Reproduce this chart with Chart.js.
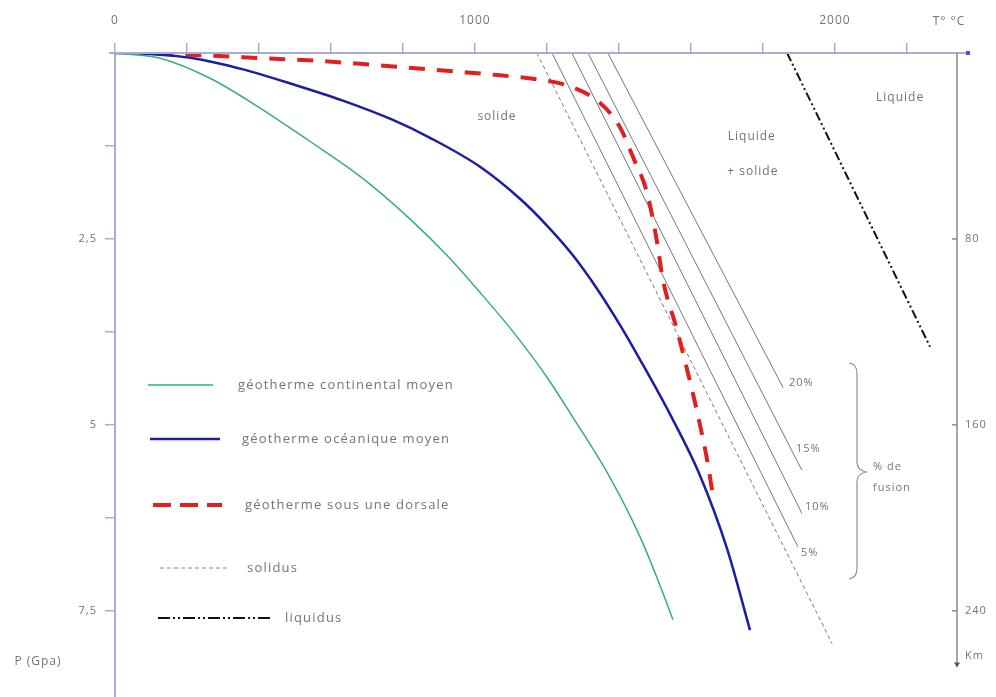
<!DOCTYPE html>
<html lang="fr">
<head>
<meta charset="UTF-8">
<title>Géothermes et fusion partielle</title>
<script src="https://cdn.jsdelivr.net/npm/chart.js"></script>
<style>
  body { margin: 0; background: #fff; }
  .graphe { width: 996px; height: 697px; }
</style>
</head>
<body>
<div class="graphe">
  <canvas id="grafico"></canvas>
</div>

<script>
// temperatures en °C, pressions en GPa
var tempCont = [0, 125, 264, 403, 542, 681, 819, 922, 1014, 1106, 1200, 1272, 1367, 1458, 1514, 1550];
var presCont = [0, 0.07, 0.34, 0.74, 1.19, 1.66, 2.23, 2.72, 3.22, 3.75, 4.36, 4.90, 5.64, 6.50, 7.16, 7.62];

var tempOcea = [0, 78, 217, 356, 494, 633, 772, 875, 1014, 1125, 1200, 1272, 1339, 1403, 1458, 1542, 1625, 1700, 1764];
var presOcea = [0, 0.01, 0.07, 0.22, 0.42, 0.64, 0.90, 1.14, 1.53, 1.96, 2.32, 2.72, 3.17, 3.66, 4.12, 4.86, 5.68, 6.66, 7.76];

var tempDors = [40, 244, 411, 578, 772, 950, 1069, 1181, 1264, 1347, 1403, 1439, 1478, 1506, 1522, 1561, 1603, 1625, 1644, 1661];
var presDors = [0, 0.03, 0.07, 0.11, 0.18, 0.25, 0.30, 0.36, 0.45, 0.67, 1.0, 1.40, 1.88, 2.55, 3.05, 3.72, 4.53, 5.0, 5.45, 5.95];

var tempSolidus = [1172, 1992];
var presSolidus = [0, 7.94];
var tempFus5 = [1214, 1897];
var presFus5 = [0, 6.64];
var tempFus10 = [1269, 1908];
var presFus10 = [0, 6.19];
var tempFus15 = [1314, 1908];
var presFus15 = [0, 5.61];
var tempFus20 = [1369, 1856];
var presFus20 = [0, 4.50];
var tempLiquidus = [1867, 2264];
var presLiquidus = [0, 3.95];

var ticksPres = {2.5: '2,5', 5: '5', 7.5: '7,5'};
var ticksKm = [80, 160, 240];

var corAxe = '#a9add3';
var corTexto = '#747474';
var fonte = '"Open Sans", sans-serif';

function pontos(t, p) {
  var r = [];
  for (let i = 0; i < t.length; i++) {
    r.push({x: t[i], y: p[i]});
  }
  return r;
}

function serie(t, p, cor, larg, dash) {
  return {
    data: pontos(t, p),
    showLine: true,
    borderColor: cor,
    borderWidth: larg,
    borderDash: dash || [],
    pointRadius: 0,
    cubicInterpolationMode: 'monotone',
    fill: false
  };
}

function semPadding(s) {
  s.paddingTop = 0;
  s.paddingBottom = 0;
  s.paddingLeft = 0;
  s.paddingRight = 0;
}

// espacement des lettres comme dans l'original
var espaco = {
  id: 'espaco',
  beforeDraw(chart) {
    chart.ctx.letterSpacing = '1px';
  }
};

// textes, legende, accolade et axe des km
var decor = {
  id: 'decor',
  afterDraw(chart) {
    var ctx = chart.ctx;
    var sx = chart.scales.x, sy = chart.scales.y, sk = chart.scales.km;
    var area = chart.chartArea;
    ctx.save();
    ctx.letterSpacing = '1px';

    // prolongement de l'axe des T et point
    ctx.strokeStyle = corAxe;
    ctx.lineWidth = 2;
    ctx.beginPath();
    ctx.moveTo(area.left - 6, area.top);
    ctx.lineTo(area.right + 11, area.top);
    ctx.stroke();
    ctx.fillStyle = '#4a55c0';
    ctx.fillRect(area.right + 9, area.top - 2, 4, 4);

    // axe de droite (km)
    var xk = area.right;
    var yFim = sk.getPixelForValue(264);
    ctx.strokeStyle = '#8a8a8a';
    ctx.lineWidth = 1.5;
    ctx.beginPath();
    ctx.moveTo(xk, area.top);
    ctx.lineTo(xk, yFim);
    ctx.stroke();
    ctx.fillStyle = '#555';
    ctx.beginPath();
    ctx.moveTo(xk - 3, yFim - 4);
    ctx.lineTo(xk + 3, yFim - 4);
    ctx.lineTo(xk, yFim + 1);
    ctx.fill();
    ticksKm.forEach(function (v) {
      var y = sk.getPixelForValue(v);
      ctx.beginPath();
      ctx.moveTo(xk - 5, y);
      ctx.lineTo(xk, y);
      ctx.stroke();
    });

    ctx.fillStyle = corTexto;
    ctx.textBaseline = 'middle';
    ctx.font = '11px ' + fonte;
    ctx.textAlign = 'left';
    ctx.fillText('Km', xk + 8, yFim - 11);
    ctx.textAlign = 'center';
    ctx.font = '12px ' + fonte;
    ctx.fillText('T° °C', 949, 22);
    ctx.fillText('P (Gpa)', 38, 662);

    // zones
    ctx.fillText('solide', sx.getPixelForValue(1061), sy.getPixelForValue(0.85));
    ctx.fillText('Liquide', sx.getPixelForValue(1769), sy.getPixelForValue(1.12));
    ctx.fillText('+ solide', sx.getPixelForValue(1772), sy.getPixelForValue(1.60));
    ctx.fillText('Liquide', sx.getPixelForValue(2181), sy.getPixelForValue(0.60));

    // % de fusion
    ctx.font = '11px ' + fonte;
    ctx.textAlign = 'left';
    ctx.fillText('20%', 789, 383);
    ctx.fillText('15%', 796, 449);
    ctx.fillText('10%', 805, 507);
    ctx.fillText('5%', 801, 553);
    ctx.fillText('% de', 873, 467);
    ctx.fillText('fusion', 873, 488);

    // accolade
    ctx.strokeStyle = '#909090';
    ctx.lineWidth = 1.2;
    ctx.beginPath();
    ctx.moveTo(849, 363);
    ctx.quadraticCurveTo(857, 364, 857, 374);
    ctx.lineTo(857, 462);
    ctx.quadraticCurveTo(857, 470, 866, 472);
    ctx.quadraticCurveTo(857, 474, 857, 482);
    ctx.lineTo(857, 568);
    ctx.quadraticCurveTo(857, 578, 849, 579);
    ctx.stroke();

    // legende
    var leg = [
      {y: 385, x0: 148, x1: 213, cor: '#33ad86', larg: 1.5, dash: [], txt: 'géotherme continental moyen', xt: 238},
      {y: 439, x0: 150, x1: 220, cor: '#1c1ca6', larg: 2.5, dash: [], txt: 'géotherme océanique moyen', xt: 242},
      {y: 505, x0: 153, x1: 222, cor: '#e0201e', larg: 4, dash: [18, 9], txt: 'géotherme sous une dorsale', xt: 245},
      {y: 568, x0: 160, x1: 227, cor: '#8a8a8a', larg: 1, dash: [4, 3], txt: 'solidus', xt: 247},
      {y: 618, x0: 158, x1: 272, cor: '#111', larg: 1.8, dash: [12, 3, 2, 3, 2, 3], txt: 'liquidus', xt: 285}
    ];
    ctx.font = '13px ' + fonte;
    ctx.letterSpacing = '1.2px';
    leg.forEach(function (l) {
      ctx.strokeStyle = l.cor;
      ctx.lineWidth = l.larg;
      ctx.setLineDash(l.dash);
      ctx.beginPath();
      ctx.moveTo(l.x0, l.y);
      ctx.lineTo(l.x1, l.y);
      ctx.stroke();
      ctx.setLineDash([]);
      ctx.fillStyle = corTexto;
      ctx.fillText(l.txt, l.xt, l.y);
    });

    ctx.restore();
  }
};

const ctxGraf = document.getElementById('grafico');

new Chart(ctxGraf, {
  type: 'scatter',
  data: {
    datasets: [
      serie(tempCont, presCont, '#33ad86', 1.5),
      serie(tempOcea, presOcea, '#1c1ca6', 2.5),
      serie(tempDors, presDors, '#e0201e', 4, [16, 12]),
      serie(tempSolidus, presSolidus, '#777', 1, [4, 3]),
      serie(tempFus5, presFus5, '#777', 1),
      serie(tempFus10, presFus10, '#777', 1),
      serie(tempFus15, presFus15, '#777', 1),
      serie(tempFus20, presFus20, '#777', 1),
      serie(tempLiquidus, presLiquidus, '#111', 2, [9, 3, 2, 3, 2, 3])
    ]
  },
  options: {
    responsive: true,
    maintainAspectRatio: false,
    animation: false,
    layout: { padding: 0 },
    plugins: {
      legend: { display: false },
      tooltip: { enabled: false }
    },
    scales: {
      x: {
        type: 'linear',
        position: 'top',
        min: 0,
        max: 2339,
        afterFit: function (s) { s.height = 53; semPadding(s); },
        border: { color: corAxe, width: 2 },
        grid: {
          drawOnChartArea: false,
          drawTicks: true,
          tickLength: 10,
          color: corAxe,
          lineWidth: 1.5
        },
        ticks: {
          stepSize: 200,
          includeBounds: false,
          autoSkip: false,
          maxRotation: 0,
          padding: 15,
          color: corTexto,
          font: { family: fonte, size: 12 },
          callback: function (v) { return v % 1000 === 0 ? String(v) : ''; }
        }
      },
      y: {
        type: 'linear',
        position: 'left',
        reverse: true,
        min: 0,
        max: 8.66,
        afterFit: function (s) { s.width = 115; semPadding(s); },
        border: { color: corAxe, width: 2 },
        grid: {
          drawOnChartArea: false,
          drawTicks: true,
          tickLength: 10,
          lineWidth: 1.5,
          color: function (c) { return c.tick && c.tick.value === 0 ? 'rgba(0,0,0,0)' : corAxe; }
        },
        ticks: {
          stepSize: 1.25,
          includeBounds: false,
          autoSkip: false,
          padding: 8,
          color: corTexto,
          font: { family: fonte, size: 11 },
          callback: function (v) { return ticksPres[v] || ''; }
        }
      },
      km: {
        type: 'linear',
        position: 'right',
        reverse: true,
        min: 0,
        max: 277.1,
        afterFit: function (s) { s.width = 39; semPadding(s); },
        border: { display: false },
        grid: { drawOnChartArea: false, drawTicks: false },
        ticks: {
          stepSize: 80,
          includeBounds: false,
          autoSkip: false,
          padding: 8,
          color: corTexto,
          font: { family: fonte, size: 11 },
          callback: function (v) { return ticksKm.indexOf(v) >= 0 ? String(v) : ''; }
        }
      }
    }
  },
  plugins: [espaco, decor]
});
</script>
</body>
</html>
